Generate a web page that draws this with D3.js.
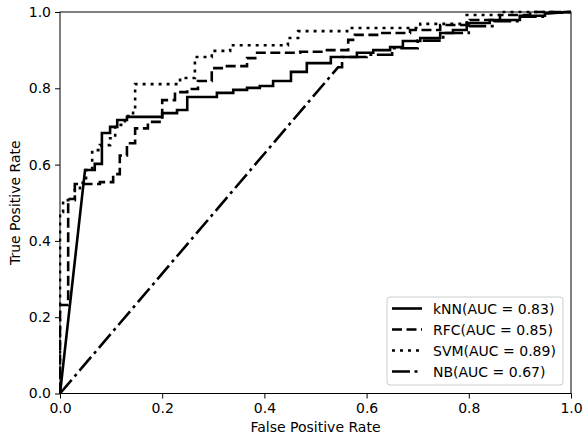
<!DOCTYPE html>
<html>
<head>
<meta charset="utf-8">
<script src="https://cdn.jsdelivr.net/npm/d3@7"></script>
<style>
  body { margin: 0; background: #fff; }
  text { font-family: "DejaVu Sans", sans-serif; }
</style>
</head>
<body>
<div id="chart"></div>
<script>
// ROC vertices [fpr, tpr]
const knnRoc = [[0,0],[0.049,0.586],[0.068,0.586],[0.068,0.602],[0.082,0.602],[0.082,0.683],[0.098,0.683],[0.098,0.699],
  [0.112,0.699],[0.112,0.717],[0.131,0.717],[0.131,0.725],[0.2,0.725],[0.2,0.735],[0.229,0.735],[0.229,0.743],[0.249,0.743],
  [0.249,0.777],[0.307,0.777],[0.307,0.788],[0.339,0.788],[0.339,0.796],[0.366,0.796],[0.366,0.801],[0.391,0.801],[0.391,0.806],
  [0.417,0.806],[0.417,0.819],[0.452,0.819],[0.452,0.843],[0.483,0.843],[0.483,0.866],[0.53,0.866],[0.53,0.882],[0.581,0.882],
  [0.581,0.893],[0.613,0.893],[0.613,0.9],[0.646,0.9],[0.646,0.908],[0.671,0.908],[0.671,0.924],[0.705,0.924],[0.705,0.932],
  [0.744,0.932],[0.744,0.945],[0.769,0.945],[0.769,0.953],[0.796,0.953],[0.796,0.971],[0.841,0.971],[0.841,0.979],[0.9,0.979],
  [0.9,0.99],[0.949,0.99],[0.949,0.997],[1,1]];

const rfcRoc = [[0,0],[0,0.232],[0.016,0.232],[0.016,0.51],[0.029,0.51],[0.029,0.549],[0.078,0.549],[0.078,0.554],[0.104,0.554],
  [0.104,0.575],[0.117,0.575],[0.117,0.624],[0.131,0.624],[0.131,0.656],[0.147,0.656],[0.147,0.695],[0.172,0.695],[0.172,0.712],
  [0.2,0.712],[0.2,0.769],[0.225,0.769],[0.225,0.79],[0.249,0.79],[0.249,0.798],[0.27,0.798],[0.27,0.819],[0.297,0.819],
  [0.297,0.853],[0.323,0.853],[0.323,0.858],[0.366,0.858],[0.366,0.879],[0.382,0.879],[0.382,0.893],[0.47,0.893],[0.47,0.896],
  [0.519,0.896],[0.519,0.9],[0.564,0.9],[0.564,0.927],[0.577,0.927],[0.577,0.94],[0.626,0.94],[0.626,0.945],[0.685,0.945],
  [0.685,0.953],[0.744,0.953],[0.744,0.966],[0.802,0.966],[0.802,0.979],[0.861,0.979],[0.861,0.992],[0.92,0.992],[0.92,1],[1,1]];

const svmRoc = [[0,0],[0,0.476],[0.006,0.476],[0.006,0.507],[0.029,0.507],[0.029,0.533],[0.039,0.533],[0.039,0.552],
  [0.051,0.552],[0.051,0.586],[0.063,0.586],[0.063,0.638],[0.078,0.638],[0.078,0.651],[0.098,0.651],[0.098,0.669],[0.108,0.669],
  [0.108,0.704],[0.127,0.704],[0.127,0.727],[0.143,0.727],[0.143,0.743],[0.147,0.743],[0.147,0.811],[0.235,0.811],[0.235,0.827],
  [0.264,0.827],[0.264,0.882],[0.297,0.882],[0.297,0.898],[0.333,0.898],[0.333,0.913],[0.446,0.913],[0.446,0.932],[0.466,0.932],
  [0.466,0.95],[0.562,0.95],[0.562,0.958],[0.705,0.958],[0.705,0.969],[0.796,0.969],[0.796,0.992],[0.861,0.992],[0.861,1],[1,1]];

const nbRoc = [[0,0],[0.544,0.855],[0.552,0.855],[0.552,0.882],[0.6,0.882],[0.6,0.888],[0.65,0.888],[0.65,0.905],
  [0.7,0.905],[0.7,0.925],[0.75,0.925],[0.75,0.945],[0.8,0.945],[0.8,0.963],[0.85,0.963],[0.85,0.976],[0.9,0.976],
  [0.9,0.988],[0.95,0.988],[0.95,0.996],[1,1]];

const modelNames = ["kNN(AUC = 0.83)", "RFC(AUC = 0.85)", "SVM(AUC = 0.89)", "NB(AUC = 0.67)"];
const dashStyles = [null, "10,4.5", "3,5", "18,4.5,3,4.5"];
const tickValues = [0, 0.2, 0.4, 0.6, 0.8, 1.0];

const width = 584, height = 436;
const margin = {left: 60, top: 12, right: 13, bottom: 42.5};
const w = width - margin.left - margin.right;
const h = height - margin.top - margin.bottom;

const svg = d3.select("#chart").append("svg")
  .attr("width", width)
  .attr("height", height);

svg.append("defs").append("clipPath").attr("id", "plotclip")
  .append("rect").attr("x", -1).attr("y", -2).attr("width", w + 2).attr("height", h + 3);

const g = svg.append("g")
  .attr("transform", `translate(${margin.left},${margin.top})`);

const x = d3.scaleLinear().domain([0, 1]).range([0, w]);
const y = d3.scaleLinear().domain([0, 1]).range([h, 0]);

const line = d3.line()
  .x(d => x(d[0]))
  .y(d => y(d[1]));

const series = [knnRoc, rfcRoc, svmRoc, nbRoc];

const plot = g.append("g").attr("clip-path", "url(#plotclip)");
series.forEach((s, i) => {
  plot.append("path")
    .datum(s)
    .attr("d", line)
    .style("fill", "none")
    .style("stroke", "#000")
    .style("stroke-width", 2.6)
    .style("stroke-dasharray", dashStyles[i]);
});

// axes
const fmt = d3.format(".1f");
const xAxis = g.append("g")
  .attr("transform", `translate(0,${h})`)
  .call(d3.axisBottom(x).tickValues(tickValues).tickFormat(fmt).tickSize(5).tickPadding(5));
const yAxis = g.append("g")
  .call(d3.axisLeft(y).tickValues(tickValues).tickFormat(fmt).tickSize(5).tickPadding(4));

[xAxis, yAxis].forEach(a => {
  a.select(".domain").remove();
  a.selectAll("line").style("stroke", "#000").style("stroke-width", 1);
  a.selectAll("text").style("font-size", "14px").style("fill", "#000");
});

// frame
g.append("rect")
  .attr("width", w).attr("height", h)
  .style("fill", "none")
  .style("stroke", "#000")
  .style("stroke-width", 1);

svg.append("text")
  .attr("x", margin.left + w / 2)
  .attr("y", 432)
  .style("text-anchor", "middle")
  .style("font-size", "14px")
  .text("False Positive Rate");

svg.append("text")
  .attr("transform", `translate(20,${margin.top + h / 2}) rotate(-90)`)
  .style("text-anchor", "middle")
  .style("font-size", "14px")
  .text("True Positive Rate");

// legend
const legend = svg.append("g").attr("transform", "translate(387,297)");
legend.append("rect")
  .attr("width", 176).attr("height", 88)
  .attr("rx", 3)
  .style("fill", "#fff")
  .style("fill-opacity", 0.8)
  .style("stroke", "#ccc")
  .style("stroke-width", 1);

modelNames.forEach((name, i) => {
  const ly = 11.5 + i * 21;
  legend.append("line")
    .attr("x1", 5).attr("x2", 35)
    .attr("y1", ly).attr("y2", ly)
    .style("stroke", "#000")
    .style("stroke-width", 2.6)
    .style("stroke-dasharray", dashStyles[i]);
  legend.append("text")
    .attr("x", 46)
    .attr("y", ly + 5)
    .style("font-size", "14px")
    .text(name);
});
</script>
</body>
</html>
